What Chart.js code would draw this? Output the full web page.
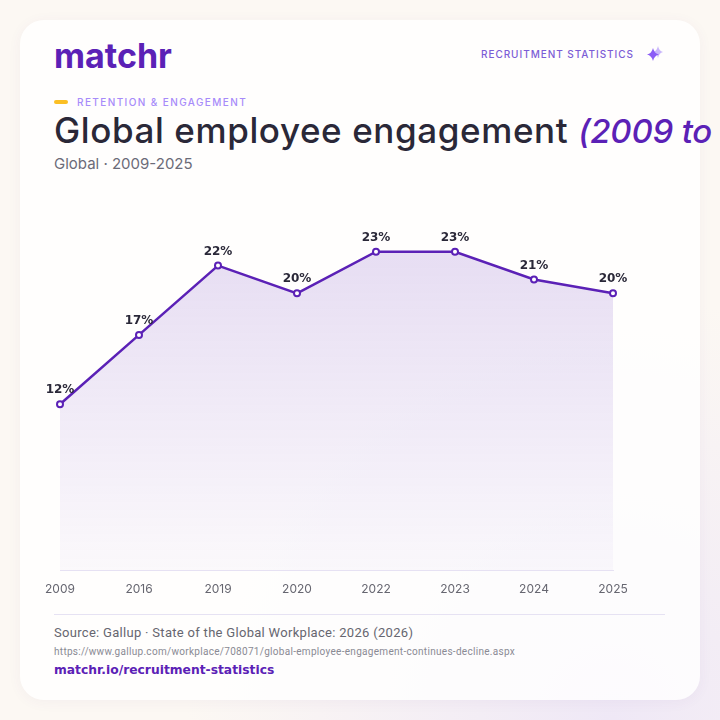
<!DOCTYPE html>
<html>
<head>
<meta charset="utf-8">
<script src="https://cdn.jsdelivr.net/npm/chart.js@4"></script>
<style>
  html, body { margin: 0; padding: 0; }
  body {
    width: 720px; height: 720px; overflow: hidden; position: relative;
    background: radial-gradient(circle at 85% 100%, #efe8f6 0%, rgba(239,232,246,0) 45%), #fcf8f3;
    font-family: "Inter", "Noto Sans", sans-serif;
  }
  .card {
    position: absolute; left: 20px; top: 20px; width: 680px; height: 680px;
    border-radius: 24px; background: rgba(255,255,255,0.82);
    box-shadow: 0 2px 14px rgba(90,60,140,0.05);
  }
  .logo { position: absolute; left: 54px; top: 35px; font: 700 34px "Inter", sans-serif; color: #5b21b6; letter-spacing: 0px; }
  .tag { position: absolute; left: 481px; top: 48px; font: 500 10px "Inter", sans-serif; letter-spacing: 0.95px; color: #7c5cd6; }
  .spark { position: absolute; left: 644px; top: 44px; }
  .dash { position: absolute; left: 54px; top: 100px; width: 14px; height: 4px; border-radius: 2px; background: #fbbf24; }
  .kicker { position: absolute; left: 77px; top: 96px; font: 500 10px "Inter", sans-serif; letter-spacing: 1.4px; color: #a78bfa; }
  .title { position: absolute; left: 54px; top: 109px; white-space: nowrap; font: 500 35px "Inter", sans-serif; color: #2a2838; letter-spacing: 0.6px; }
  .title em { color: #5b21b6; font-style: italic; font-size: 33px; letter-spacing: -0.2px; }
  .sub { position: absolute; left: 54px; top: 154px; font: 400 15px "Inter", sans-serif; color: #6b6b78; }
  #wrap { position: absolute; left: 20px; top: 190px; width: 680px; height: 420px; }
  .rule { position: absolute; left: 54px; top: 614px; width: 611px; height: 1px; background: #e6e2f3; }
  .src { position: absolute; left: 54px; top: 625px; font: 400 13px "Roboto", sans-serif; color: #666670; letter-spacing: 0.3px; }
  .url { position: absolute; left: 54px; top: 646px; font: 400 10px "Roboto", sans-serif; color: #8a8a94; letter-spacing: 0.3px; }
  .site { position: absolute; left: 54px; top: 663px; font: 700 12.3px "DejaVu Sans", sans-serif; color: #5b21b6; }
</style>
</head>
<body>
<div class="card"></div>
<div class="logo">matchr</div>
<div class="tag">RECRUITMENT STATISTICS</div>
<svg class="spark" width="22" height="20" viewBox="0 0 22 20">
  <path d="M14 2 Q15 7 19 8 Q15 9 14 14 Q13 9 9 8 Q13 7 14 2Z" fill="#c9b6fb"/>
  <path d="M9 4 Q10.3 9.5 15 10.5 Q10.3 11.5 9 17 Q7.7 11.5 3 10.5 Q7.7 9.5 9 4Z" fill="#8b5cf6"/>
</svg>
<div class="dash"></div>
<div class="kicker">RETENTION &amp; ENGAGEMENT</div>
<div class="title">Global employee engagement <em>(2009 to 2025)</em></div>
<div class="sub">Global · 2009-2025</div>
<div id="wrap"><canvas id="engagementChart"></canvas></div>
<div class="rule"></div>
<div class="src">Source: Gallup · State of the Global Workplace: 2026 (2026)</div>
<div class="url">https://www.gallup.com/workplace/708071/global-employee-engagement-continues-decline.aspx</div>
<div class="site">matchr.io/recruitment-statistics</div>

<script>
let years = ["2009", "2016", "2019", "2020", "2022", "2023", "2024", "2025"];
let engagement = [12, 17, 22, 20, 23, 23, 21, 20];

let valueLabels = {
    id: "valueLabels",
    afterDatasetsDraw(chart) {
        let ctx = chart.ctx;
        let meta = chart.getDatasetMeta(0);
        ctx.save();
        ctx.font = "bold 12px 'DejaVu Sans'";
        ctx.fillStyle = "#2a2838";
        ctx.textAlign = "center";
        ctx.textBaseline = "middle";
        meta.data.forEach((pt, i) => {
            ctx.fillText(engagement[i] + "%", pt.x, pt.y - 14);
        });
        ctx.restore();
    }
};

let ctx = document.getElementById("engagementChart").getContext("2d");

let chart = new Chart(ctx, {
    type: "line",
    data: {
        labels: years,
        datasets: [{
            label: "Engaged employees (%)",
            data: engagement,
            borderColor: "#5b21b6",
            borderWidth: 2.5,
            tension: 0,
            fill: "origin",
            backgroundColor: (c) => {
                let area = c.chart.chartArea;
                if (!area) return "rgba(124,92,214,0.15)";
                let g = c.chart.ctx.createLinearGradient(0, area.top, 0, area.bottom);
                g.addColorStop(0, "rgba(124,80,200,0.20)");
                g.addColorStop(1, "rgba(124,80,200,0.03)");
                return g;
            },
            pointRadius: 3,
            pointBorderWidth: 2,
            pointBackgroundColor: "#ffffff",
            pointBorderColor: "#5b21b6"
        }]
    },
    options: {
        responsive: true,
        maintainAspectRatio: false,
        animation: false,
        layout: { padding: { left: 40, right: 87, top: 34, bottom: 1 } },
        plugins: { legend: { display: false }, tooltip: { enabled: false } },
        scales: {
            x: {
                grid: { display: true, drawOnChartArea: false, drawTicks: false },
                border: { display: true, color: "#e6e2f3", width: 1 },
                ticks: { color: "#666670", padding: 12, font: { family: "Inter", size: 12 } }
            },
            y: { display: false, min: 0, max: 25 }
        }
    },
    plugins: [valueLabels]
});
</script>
</body>
</html>
